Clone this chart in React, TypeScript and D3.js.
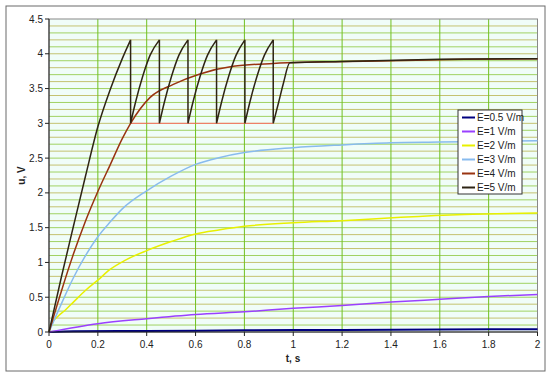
import React from 'react';
import * as d3 from 'd3';

// time (s) / voltage (V) pairs
const seriesE05: [number, number][] = [
  [0, 0], [0.1, 0.01], [0.4, 0.015], [0.8, 0.024], [1.2, 0.03], [1.6, 0.036], [2, 0.04],
];
const seriesE1: [number, number][] = [
  [0, 0], [0.2, 0.12], [0.4, 0.19], [0.6, 0.25], [0.8, 0.29], [1.0, 0.34],
  [1.2, 0.38], [1.4, 0.43], [1.6, 0.47], [1.8, 0.51], [2, 0.54],
];
const seriesE2: [number, number][] = [
  [0, 0], [0.011, 0.12], [0.035, 0.22], [0.065, 0.31], [0.1, 0.43], [0.15, 0.6], [0.2, 0.745],
  [0.25, 0.9], [0.311, 1.03], [0.4, 1.17], [0.5, 1.3], [0.6, 1.41], [0.7, 1.47],
  [0.8, 1.52], [1.0, 1.57], [1.2, 1.6], [1.44, 1.65], [1.7, 1.69], [2, 1.71],
];
const seriesE3: [number, number][] = [
  [0, 0], [0.05, 0.4], [0.1, 0.78], [0.15, 1.1], [0.2, 1.37], [0.25, 1.58], [0.3, 1.77],
  [0.4, 2.03], [0.5, 2.24], [0.6, 2.41], [0.7, 2.51], [0.8, 2.58], [1.0, 2.65],
  [1.2, 2.69], [1.4, 2.72], [1.6, 2.73], [1.8, 2.74], [2, 2.75],
];
const seriesE4: [number, number][] = [
  [0, 0], [0.05, 0.58], [0.1, 1.12], [0.15, 1.6], [0.2, 2.02], [0.25, 2.4], [0.3, 2.78],
  [0.334, 3.0], [0.413, 3.37], [0.509, 3.56], [0.618, 3.71], [0.754, 3.82],
  [0.918, 3.86], [1.096, 3.88], [1.4, 3.9], [1.7, 3.92], [2, 3.93],
];
const seriesE5: [number, number][] = [
  [0, 0], [0.05, 0.78], [0.1, 1.52], [0.15, 2.25], [0.2, 2.95], [0.25, 3.48], [0.3, 3.93], [0.334, 4.2],
  [0.334, 3.0], [0.354, 3.3], [0.384, 3.68], [0.414, 3.98], [0.452, 4.2],
  [0.452, 3.0], [0.472, 3.3], [0.502, 3.68], [0.532, 3.98], [0.569, 4.2],
  [0.569, 3.0], [0.589, 3.3], [0.619, 3.68], [0.649, 3.98], [0.686, 4.2],
  [0.686, 3.0], [0.706, 3.3], [0.736, 3.68], [0.766, 3.98], [0.802, 4.2],
  [0.802, 3.0], [0.822, 3.3], [0.852, 3.68], [0.882, 3.98], [0.918, 4.2],
  [0.918, 3.0], [0.94, 3.3], [0.96, 3.58], [0.986, 3.87],
  [1.2, 3.89], [1.6, 3.92], [2, 3.93],
];
const thresholdLine: [number, number][] = [[0.334, 3.0], [0.918, 3.0]];

const seriesNames = ['E=0.5 V/m', 'E=1 V/m', 'E=2 V/m', 'E=3 V/m', 'E=4 V/m', 'E=5 V/m'];
const seriesColors = ['#000080', '#9a40ff', '#e8f000', '#88bbee', '#993311', '#2e2414'];
const seriesList = [seriesE05, seriesE1, seriesE2, seriesE3, seriesE4, seriesE5];

const xTicks = [0, 0.2, 0.4, 0.6, 0.8, 1, 1.2, 1.4, 1.6, 1.8, 2];
const xTickLabels = ['0', '0.2', '0.4', '0.6', '0.8', '1', '1.2', '1.4', '1.6', '1.8', '2'];
const yTicks = [0, 0.5, 1, 1.5, 2, 2.5, 3, 3.5, 4, 4.5];
const yTickLabels = ['0', '0.5', '1', '1.5', '2', '2.5', '3', '3.5', '4', '4.5'];

const W = 550, H = 377;
const left = 49, right = 537.5, top = 19, bottom = 332;

// split a series where time repeats (the vertical discharge drops)
function splitAtDrops(s: [number, number][]) {
  const pieces: [number, number][][] = [[s[0]]];
  for (let i = 1; i < s.length; i++) {
    if (s[i][0] === s[i - 1][0]) pieces.push([s[i]]);
    else pieces[pieces.length - 1].push(s[i]);
  }
  return pieces;
}

export default function App() {
  const x = d3.scaleLinear().domain([0, 2]).range([left, right]);
  const y = d3.scaleLinear().domain([0, 4.5]).range([bottom, top]);
  const smooth = d3.line<[number, number]>().x(d => x(d[0])).y(d => y(d[1])).curve(d3.curveMonotoneX);
  const straight = d3.line<[number, number]>().x(d => x(d[0])).y(d => y(d[1]));

  const seriesPath = (s: [number, number][]) => {
    const pieces = splitAtDrops(s);
    let d = '';
    pieces.forEach((p, i) => {
      d += p.length > 1 ? smooth(p) : '';
      if (i < pieces.length - 1) d += straight([p[p.length - 1], pieces[i + 1][0]]);
    });
    return d;
  };

  // fine horizontal grid every 0.1 V
  const hGrid = d3.range(1, 45).map(i => i / 10);
  const font = '"Liberation Sans", Arial, sans-serif';

  return (
    <svg width={W} height={H} style={{ position: 'absolute', left: 0, top: 0, background: '#fff' }} fontFamily={font}>
      <rect x={6} y={6} width={539} height={365} fill="#fff" stroke="#6a6a6a" />
      <rect x={left} y={top} width={right - left} height={bottom - top} fill="#f0fdf8" />

      {hGrid.map((v, i) => (
        <line key={'h' + i} x1={left} x2={right} y1={y(v)} y2={y(v)}
          stroke={i % 2 === 0 ? '#a0d262' : '#c4c270'} strokeWidth={1} />
      ))}
      {xTicks.slice(1, -1).map((v, i) => (
        <line key={'v' + i} x1={x(v)} x2={x(v)} y1={top} y2={bottom} stroke="#70c020" strokeWidth={1} />
      ))}

      <rect x={left} y={top} width={right - left} height={bottom - top} fill="none" stroke="#888" />

      <path d={straight(thresholdLine) || ''} fill="none" stroke="#ff5a5a" strokeWidth={1} opacity={0.8} />
      {seriesList.map((s, i) => (
        <path key={'s' + i} d={seriesPath(s)} fill="none" stroke={seriesColors[i]}
          strokeWidth={i === 0 ? 2 : 1.5} strokeLinejoin="round" />
      ))}

      {/* axes */}
      <line x1={left} x2={left} y1={top} y2={bottom} stroke="#222" />
      <line x1={left} x2={right} y1={bottom} y2={bottom} stroke="#222" />
      {yTicks.map((v, i) => (
        <g key={'yt' + i}>
          <line x1={left - 4} x2={left} y1={y(v)} y2={y(v)} stroke="#222" />
          <text x={left - 6} y={y(v)} dy="0.35em" textAnchor="end" fontSize={10} fill="#222">{yTickLabels[i]}</text>
        </g>
      ))}
      {xTicks.map((v, i) => (
        <g key={'xt' + i}>
          <line x1={x(v)} x2={x(v)} y1={bottom} y2={bottom + 4} stroke="#222" />
          <text x={x(v)} y={bottom + 16} textAnchor="middle" fontSize={10} fill="#222">{xTickLabels[i]}</text>
        </g>
      ))}
      <text x={293} y={362} textAnchor="middle" fontSize={10} fontWeight="bold" fill="#222">t, s</text>
      <text transform={`translate(25,${(top + bottom) / 2}) rotate(-90)`} textAnchor="middle" fontSize={10}
        fontWeight="bold" fill="#222">u, V</text>

      {/* legend */}
      <g transform="translate(458,110)">
        <rect x={0} y={0} width={64} height={84} fill="#fff" stroke="#333" />
        {seriesNames.map((n, i) => (
          <g key={'l' + i} transform={`translate(0,${7.5 + i * 14})`}>
            <line x1={4} x2={17} y1={0} y2={0} stroke={seriesColors[i]} strokeWidth={2} />
            <text x={19} y={0} dy="0.35em" fontSize={10} fill="#222">{n}</text>
          </g>
        ))}
      </g>
    </svg>
  );
}
